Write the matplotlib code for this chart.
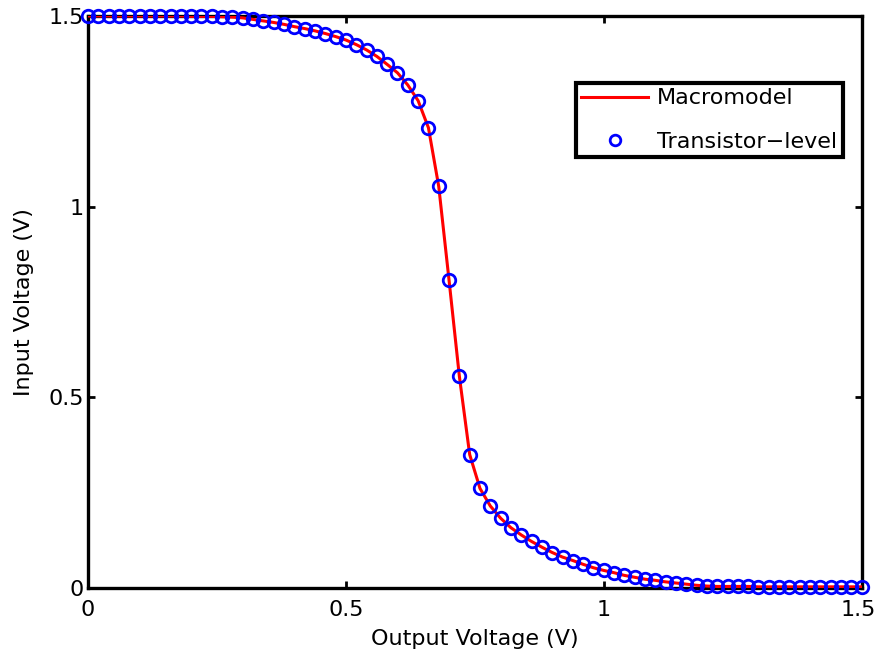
import matplotlib
matplotlib.use("Agg")
import matplotlib.pyplot as plt
from matplotlib.transforms import ScaledTranslation

plt.rcParams['font.family'] = ['DejaVu Sans']

# output voltage grid (V)
v_out = [0.00, 0.02, 0.04, 0.06, 0.08, 0.10, 0.12, 0.14, 0.16, 0.18,
         0.20, 0.22, 0.24, 0.26, 0.28, 0.30, 0.32, 0.34, 0.36, 0.38,
         0.40, 0.42, 0.44, 0.46, 0.48, 0.50, 0.52, 0.54, 0.56, 0.58,
         0.60, 0.62, 0.64, 0.66, 0.68, 0.70, 0.72, 0.74, 0.76, 0.78,
         0.80, 0.82, 0.84, 0.86, 0.88, 0.90, 0.92, 0.94, 0.96, 0.98,
         1.00, 1.02, 1.04, 1.06, 1.08, 1.10, 1.12, 1.14, 1.16, 1.18,
         1.20, 1.22, 1.24, 1.26, 1.28, 1.30, 1.32, 1.34, 1.36, 1.38,
         1.40, 1.42, 1.44, 1.46, 1.48, 1.50]

# input voltage, transistor-level and macromodel (V)
v_in = [1.500, 1.500, 1.500, 1.500, 1.500, 1.500, 1.500, 1.500, 1.500, 1.500,
        1.499, 1.499, 1.499, 1.498, 1.497, 1.495, 1.491, 1.487, 1.483, 1.478,
        1.472, 1.467, 1.461, 1.454, 1.446, 1.437, 1.425, 1.411, 1.394, 1.373,
        1.351, 1.319, 1.278, 1.207, 1.053, 0.807, 0.555, 0.350, 0.261, 0.215,
        0.183, 0.158, 0.139, 0.122, 0.107, 0.093, 0.081, 0.072, 0.062, 0.053,
        0.046, 0.040, 0.033, 0.028, 0.023, 0.020, 0.016, 0.013, 0.010, 0.007,
        0.005, 0.004, 0.004, 0.004, 0.004, 0.003, 0.003, 0.003, 0.003, 0.003,
        0.003, 0.003, 0.003, 0.003, 0.003, 0.003]
v_in_macro = list(v_in)

xticks = [0, 0.5, 1, 1.5]
yticks = [0, 0.5, 1, 1.5]
tick_labels = ['0', '0.5', '1', '1.5']

fig = plt.figure(figsize=(8.76, 6.52), dpi=100)
ax = fig.add_axes([0.1005, 0.0982, 0.8831, 0.8773])

ax.plot(v_out, v_in_macro, color='red', lw=2.2, label='Macromodel', zorder=3)
ax.plot(v_out, v_in, ls='none', marker='o', ms=9, mfc='none', mec='blue',
        mew=2, label='Transistor\u2212level', clip_on=False, zorder=4)

ax.set_xlim(0, 1.5)
ax.set_ylim(0, 1.5)
ax.set_xticks(xticks)
ax.set_xticklabels(tick_labels)
ax.set_yticks(yticks)
ax.set_yticklabels(tick_labels)
ax.tick_params(direction='in', length=5, width=2, labelsize=16,
               top=True, right=True)
ax.tick_params(axis='x', pad=8.5)
ax.tick_params(axis='y', pad=3)
for s in ax.spines.values():
    s.set_linewidth(2.4)

# keep the last x label inside the canvas, as in the original
last = ax.get_xticklabels()[-1]
last.set_horizontalalignment('right')
last.set_transform(last.get_transform() + ScaledTranslation(0.14, 0, fig.dpi_scale_trans))

ax.set_xlabel('Output Voltage (V)', fontsize=16, labelpad=6.5)
ax.set_ylabel('Input Voltage (V)', fontsize=16, labelpad=10)

leg = ax.legend(loc='upper right', bbox_to_anchor=(0.9755, 0.883),
                borderaxespad=0, fontsize=16, fancybox=False,
                framealpha=1, handlelength=3.0, handletextpad=0.4,
                borderpad=0.25, labelspacing=1.05, markerscale=0.85)
leg.get_frame().set_edgecolor('black')
leg.get_frame().set_linewidth(3)

fig.savefig('out.png', dpi=100)
